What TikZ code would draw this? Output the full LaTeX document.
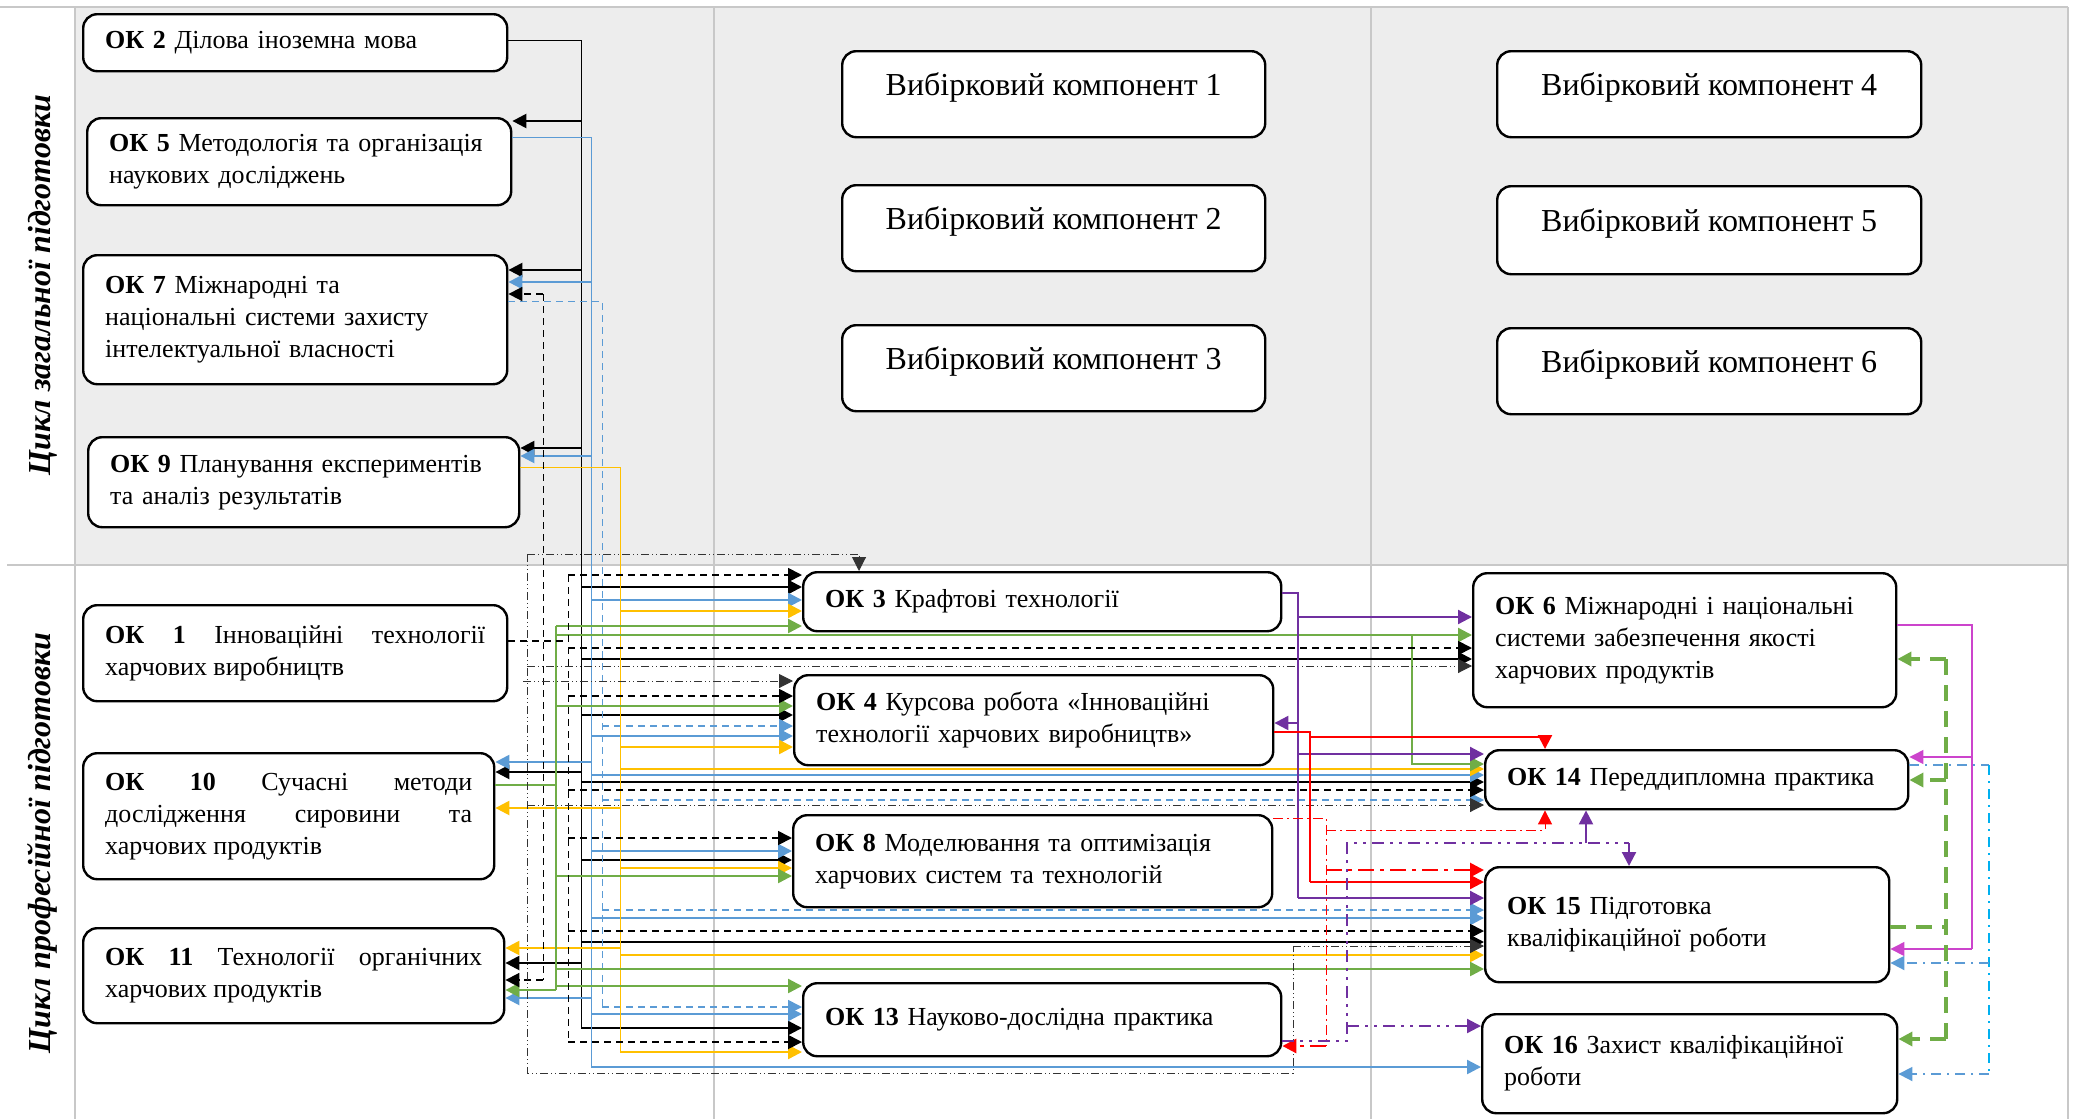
\documentclass[tikz,border=0pt]{standalone}
\usepackage{fontspec}
\setmainfont{Liberation Serif}
\usetikzlibrary{arrows.meta}

\definecolor{bgfill}{HTML}{EDEDED}
\definecolor{sepgray}{HTML}{C8C8C8}
\definecolor{lblue}{HTML}{5B9BD5}
\definecolor{lyellow}{HTML}{FFC000}
\definecolor{lgreen}{HTML}{70AD47}
\definecolor{lpurple}{HTML}{7030A0}
\definecolor{lred}{HTML}{FF0000}
\definecolor{lmagenta}{HTML}{CC44CC}
\definecolor{lcyan}{HTML}{00B0F0}

\begin{document}
\begin{tikzpicture}[
  x=0.5pt, y=-0.5pt,
  okbox/.style={draw, line width=1.2pt, rounded corners=7pt, fill=white, align=left,
    inner xsep=11pt, inner ysep=2pt, anchor=north west, font=\fontsize{13}{16}\selectfont},
  okjust/.style={okbox, align=justify},
  vkbox/.style={draw, line width=1.2pt, rounded corners=7pt, fill=white, align=center,
    anchor=north west, text depth=10pt, font=\fontsize{16}{19}\selectfont},
  cyclabel/.style={rotate=90, font=\fontsize{16}{19}\selectfont\bfseries\itshape},
  sepline/.style={sepgray, line width=1pt},
  arr/.style={-{Triangle[length=7pt,width=7pt]}},
  bus/.style={line width=0.5pt},
  blk/.style={black, line width=1.2pt},
  blu/.style={lblue, line width=1.2pt},
  yel/.style={lyellow, line width=1.2pt},
  grn/.style={lgreen, line width=1.2pt},
  kdash/.style={black, line width=0.9pt, dash pattern=on 3.5pt off 2.5pt},
  bdash/.style={lblue, line width=0.9pt, dash pattern=on 3.5pt off 2.5pt},
  kdd/.style={black!80, line width=0.5pt, dash pattern=on 4pt off 1.5pt on 0.5pt off 1.5pt on 0.5pt off 1.5pt},
  pur/.style={lpurple, line width=1.1pt},
  rline/.style={lred, line width=1.1pt},
  rdd/.style={lred, line width=0.5pt, dash pattern=on 5pt off 2pt on 1pt off 2pt},
  rddw/.style={lred, line width=1.4pt, dash pattern=on 8pt off 3pt on 2pt off 3pt},
  pdd/.style={lpurple, line width=1.1pt, dash pattern=on 6pt off 3pt on 1.5pt off 3pt on 1.5pt off 3pt},
  mag/.style={lmagenta, line width=0.6pt},
  gdash/.style={lgreen, line width=1.7pt, dash pattern=on 8pt off 5pt},
  cdd/.style={lcyan, line width=0.9pt, dash pattern=on 5pt off 3pt on 1pt off 3pt},
  cddb/.style={lblue, line width=0.9pt, dash pattern=on 5pt off 3pt on 1pt off 3pt}
]
\useasboundingbox (0,0) rectangle (2076,1119);

% table background
\fill[bgfill] (75,7) rectangle (2068,565);
\draw[sepline] (0,7) -- (2068,7);
\draw[sepline] (7,565) -- (2068,565);
\draw[sepline] (75,7) -- (75,1119);
\draw[sepline] (714,7) -- (714,1119);
\draw[sepline] (1371,7) -- (1371,1119);
\draw[sepline] (2068,7) -- (2068,1119);

\node[cyclabel] (gencycle) at (43,285) {Цикл загальної підготовки};
\node[cyclabel] (profcycle) at (42,843) {Цикл професійної підготовки};

% general cycle
\node[okbox, minimum width=212pt, minimum height=28.5pt, text width=190pt] (ok2) at (82,13) {\textbf{ОК 2} Ділова іноземна мова};
\node[okbox, minimum width=212pt, minimum height=43.5pt, text width=190pt] (ok5) at (86,117) {\textbf{ОК 5} Методологія та організація\\наукових досліджень};
\node[okbox, minimum width=212pt, minimum height=64.5pt, text width=190pt] (ok7) at (82,254) {\textbf{ОК 7} Міжнародні та\\національні системи захисту\\інтелектуальної власності};
\node[okbox, minimum width=215.5pt, minimum height=45pt, text width=193.5pt] (ok9) at (87,436) {\textbf{ОК 9} Планування експериментів\\та аналіз результатів};

\node[vkbox, minimum width=211.5pt, minimum height=43pt] (vk1) at (841,50) {Вибірковий компонент 1};
\node[vkbox, minimum width=211.5pt, minimum height=43pt] (vk2) at (841,184) {Вибірковий компонент 2};
\node[vkbox, minimum width=211.5pt, minimum height=43pt] (vk3) at (841,324) {Вибірковий компонент 3};
\node[vkbox, minimum width=212pt, minimum height=43pt] (vk4) at (1496,50) {Вибірковий компонент 4};
\node[vkbox, minimum width=212pt, minimum height=44pt] (vk5) at (1496,185) {Вибірковий компонент 5};
\node[vkbox, minimum width=212pt, minimum height=43pt] (vk6) at (1496,327) {Вибірковий компонент 6};

% professional cycle
\node[okjust, minimum width=212pt, minimum height=48pt, text width=190pt] (ok1) at (82,604) {\textbf{ОК 1} Інноваційні технології\linebreak харчових виробництв};
\node[okjust, minimum width=205.5pt, minimum height=63pt, text width=183.5pt] (ok10) at (82,752) {\textbf{ОК 10} Сучасні методи\linebreak дослідження сировини та\linebreak харчових продуктів};
\node[okjust, minimum width=210.5pt, minimum height=47.5pt, text width=188.5pt] (ok11) at (82,927) {\textbf{ОК 11} Технології органічних\linebreak харчових продуктів};
\node[okbox, minimum width=239pt, minimum height=29.5pt, text width=217pt] (ok3) at (802,571) {\textbf{ОК 3} Крафтові технології};
\node[okbox, minimum width=239.5pt, minimum height=45pt, text width=217.5pt] (ok4) at (793,674) {\textbf{ОК 4} Курсова робота «Інноваційні\\технології харчових виробництв»};
\node[okbox, minimum width=239.5pt, minimum height=46pt, text width=217.5pt] (ok8) at (792,814) {\textbf{ОК 8} Моделювання та оптимізація\\харчових систем та технологій};
\node[okbox, minimum width=239pt, minimum height=36.5pt, text width=217pt] (ok13) at (802,982) {\textbf{ОК 13} Науково-дослідна практика};
\node[okbox, minimum width=211.5pt, minimum height=67pt, text width=189.5pt] (ok6) at (1472,572) {\textbf{ОК 6} Міжнародні і національні\\системи забезпечення якості\\харчових продуктів};
\node[okbox, minimum width=211.5pt, minimum height=29.5pt, text width=189.5pt] (ok14) at (1484,749) {\textbf{ОК 14} Переддипломна практика};
\node[okbox, minimum width=202pt, minimum height=57.5pt, text width=180pt] (ok15) at (1484,866) {\textbf{ОК 15} Підготовка\\кваліфікаційної роботи};
\node[okbox, minimum width=207.5pt, minimum height=49.5pt, text width=185.5pt] (ok16) at (1481,1013) {\textbf{ОК 16} Захист кваліфікаційної\\роботи};

% bus lines
\coordinate (ddbus) at (527,0);
\coordinate (kdbusa) at (543,0);
\coordinate (gbus) at (556,0);
\coordinate (kdbus) at (568,0);
\coordinate (kbus) at (581,0);
\coordinate (bbus) at (591,0);
\coordinate (bdbus) at (602,0);
\coordinate (ybus) at (620,0);
\coordinate (pbus) at (1298,0);
\coordinate (rbus) at (1310,0);
\coordinate (rdbus) at (1326,0);
\coordinate (pdbus) at (1347,0);
\coordinate (gbranch) at (1412,0);
\coordinate (gdbus) at (1946,0);
\coordinate (mbus) at (1972,0);
\coordinate (cbus) at (1989,0);

% OK 2
\draw[blk, bus] (ok2.east |- 0,40) -- (kbus |- 0,40) -- (kbus |- 0,1028);
\draw[blk, arr] (kbus |- 0,121) -- (ok5.east |- 0,121);
\draw[blk, arr] (kbus |- 0,270) -- (ok7.east |- 0,270);
\draw[blk, arr] (kbus |- 0,448) -- (ok9.east |- 0,448);
\draw[blk, arr] (kbus |- 0,772) -- (ok10.east |- 0,772);
\draw[blk, arr] (kbus |- 0,963) -- (ok11.east |- 0,963);
\draw[blk, arr] (kbus |- 0,587) -- (ok3.west |- 0,587);
\draw[blk, arr] (kbus |- 0,659) -- (ok6.west |- 0,659);
\draw[blk, arr] (kbus |- 0,715) -- (ok4.west |- 0,715);
\draw[blk, arr] (kbus |- 0,782) -- (ok14.west |- 0,782);
\draw[blk, arr] (kbus |- 0,860) -- (ok8.west |- 0,860);
\draw[blk, arr] (kbus |- 0,942) -- (ok15.west |- 0,942);
\draw[blk, arr] (kbus |- 0,1028) -- (ok13.west |- 0,1028);

% OK 5
\draw[blu, bus] (ok5.east |- 0,137) -- (bbus |- 0,137) -- (bbus |- 0,1067);
\draw[blu, arr] (bbus |- 0,282) -- (ok7.east |- 0,282);
\draw[blu, arr] (bbus |- 0,456) -- (ok9.east |- 0,456);
\draw[blu, arr] (bbus |- 0,762) -- (ok10.east |- 0,762);
\draw[blu, arr] (bbus |- 0,998) -- (ok11.east |- 0,998);
\draw[blu, arr] (bbus |- 0,600) -- (ok3.west |- 0,600);
\draw[blu, arr] (bbus |- 0,736) -- (ok4.west |- 0,736);
\draw[blu, arr] (bbus |- 0,775) -- (ok14.west |- 0,775);
\draw[blu, arr] (bbus |- 0,851) -- (ok8.west |- 0,851);
\draw[blu, arr] (bbus |- 0,918) -- (ok15.west |- 0,918);
\draw[blu, arr] (bbus |- 0,1014) -- (ok13.west |- 0,1014);
\draw[blu, arr] (bbus |- 0,1067) -- (ok16.west |- 0,1067);

% OK 7
\draw[bdash, bus] (ok7.east |- 0,301) -- (bdbus |- 0,301) -- (bdbus |- 0,1007);
\draw[bdash, arr] (bdbus |- 0,726) -- (ok4.west |- 0,726);
\draw[bdash, arr] (bdbus |- 0,800) -- (ok14.west |- 0,800);
\draw[bdash, arr] (bdbus |- 0,910) -- (ok15.west |- 0,910);
\draw[bdash, arr] (bdbus |- 0,1007) -- (ok13.west |- 0,1007);

% OK 9
\draw[yel, bus] (ok9.east |- 0,467) -- (ybus |- 0,467) -- (ybus |- 0,1052);
\draw[yel, arr] (ybus |- 0,808) -- (ok10.east |- 0,808);
\draw[yel, arr] (ybus |- 0,948) -- (ok11.east |- 0,948);
\draw[yel, arr] (ybus |- 0,611) -- (ok3.west |- 0,611);
\draw[yel, arr] (ybus |- 0,747) -- (ok4.west |- 0,747);
\draw[yel, arr] (ybus |- 0,769) -- (ok14.west |- 0,769);
\draw[yel, arr] (ybus |- 0,868) -- (ok8.west |- 0,868);
\draw[yel, arr] (ybus |- 0,955) -- (ok15.west |- 0,955);
\draw[yel, arr] (ybus |- 0,1052) -- (ok13.west |- 0,1052);

% OK 10
\draw[grn] (ok10.east |- 0,785) -- (gbus |- 0,785);
\draw[grn] (gbus |- 0,626) -- (gbus |- 0,990);
\draw[grn, arr] (gbus |- 0,990) -- (ok11.east |- 0,990);
\draw[grn, arr] (gbus |- 0,626) -- (ok3.west |- 0,626);
\draw[grn, arr] (gbus |- 0,635) -- (ok6.west |- 0,635);
\draw[grn, arr] (gbranch |- 0,635) -- (gbranch |- 0,764) -- (ok14.west |- 0,764);
\draw[grn, arr] (gbus |- 0,706) -- (ok4.west |- 0,706);
\draw[grn, arr] (gbus |- 0,876) -- (ok8.west |- 0,876);
\draw[grn, arr] (gbus |- 0,969) -- (ok15.west |- 0,969);
\draw[grn, arr] (gbus |- 0,986) -- (ok13.west |- 0,986);

% OK 1
\draw[kdash] (ok1.east |- 0,641) -- (kdbus |- 0,641);
\draw[kdash, bus] (kdbus |- 0,575) -- (kdbus |- 0,1042);
\draw[kdash, bus] (kdbusa |- 0,294) -- (kdbusa |- 0,980);
\draw[kdash, arr] (kdbusa |- 0,294) -- (ok7.east |- 0,294);
\draw[kdash, arr] (kdbusa |- 0,980) -- (ok11.east |- 0,980);
\draw[kdash, arr] (kdbus |- 0,575) -- (ok3.west |- 0,575);
\draw[kdash, arr] (kdbus |- 0,648) -- (ok6.west |- 0,648);
\draw[kdash, arr] (kdbus |- 0,696) -- (ok4.west |- 0,696);
\draw[kdash, arr] (kdbus |- 0,790) -- (ok14.west |- 0,790);
\draw[kdash, arr] (kdbus |- 0,838) -- (ok8.west |- 0,838);
\draw[kdash, arr] (kdbus |- 0,931) -- (ok15.west |- 0,931);
\draw[kdash, arr] (kdbus |- 0,1042) -- (ok13.west |- 0,1042);

% dash-dot loop
\draw[kdd] (ddbus |- 0,554) -- (ddbus |- 0,1073) -- (1293,1073) -- (1293,946);
\draw[kdd, arr] (ddbus |- 0,554) -- (859,554) -- (ok3.north -| 859,0);
\draw[kdd, arr] (ddbus |- 0,666) -- (ok6.west |- 0,666);
\draw[kdd, arr] (523,681) -- (ok4.west |- 0,681);
\draw[kdd, arr] (ddbus |- 0,805) -- (ok14.west |- 0,805);
\draw[kdd, arr] (1293,946) -- (ok15.west |- 0,946);

% OK 3
\draw[pur] (ok3.east |- 0,593) -- (pbus |- 0,593) -- (pbus |- 0,898);
\draw[pur, arr] (pbus |- 0,617) -- (ok6.west |- 0,617);
\draw[pur, arr] (pbus |- 0,723) -- (ok4.east |- 0,723);
\draw[pur, arr] (pbus |- 0,754) -- (ok14.west |- 0,754);
\draw[pur, arr] (pbus |- 0,898) -- (ok15.west |- 0,898);

% OK 4
\draw[rline] (ok4.east |- 0,732) -- (rbus |- 0,732) -- (rbus |- 0,882);
\draw[rline, arr] (rbus |- 0,882) -- (ok15.west |- 0,882);
\draw[rline, arr] (rbus |- 0,737) -- (1545,737) -- (ok14.north -| 1545,0);

% OK 8
\draw[rdd] (ok8.east |- 0,818) -- (rdbus |- 0,818) -- (rdbus |- 0,1046);
\draw[rdd, arr] (rdbus |- 0,830) -- (1545,830) -- (ok14.south -| 1545,0);
\draw[rddw, arr] (rdbus |- 0,870) -- (ok15.west |- 0,870);
\draw[rddw, arr] (rdbus |- 0,1046) -- (ok13.east |- 0,1046);

% OK 13
\draw[pdd] (ok13.east |- 0,1041) -- (pdbus |- 0,1041) -- (pdbus |- 0,843) -- (1629,843);
\draw[pdd, arr] (1629,843) -- (ok15.north -| 1629,0);
\draw[pdd, arr] (pdbus |- 0,1026) -- (ok16.west |- 0,1026);
\draw[pur, arr] (1586,843) -- (ok14.south -| 1586,0);

% OK 6
\draw[mag] (ok6.east |- 0,625) -- (mbus |- 0,625) -- (mbus |- 0,949);
\draw[mag, arr] (mbus |- 0,757) -- (ok14.east |- 0,757);
\draw[mag, arr] (mbus |- 0,949) -- (ok15.east |- 0,949);

% OK 15
\draw[gdash] (ok15.east |- 0,927) -- (gdbus |- 0,927);
\draw[gdash] (gdbus |- 0,659) -- (gdbus |- 0,1039);
\draw[gdash, arr] (gdbus |- 0,659) -- (ok6.east |- 0,659);
\draw[gdash, arr] (gdbus |- 0,780) -- (ok14.east |- 0,780);
\draw[gdash, arr] (gdbus |- 0,1039) -- (ok16.east |- 0,1039);

% OK 14
\draw[cddb] (ok14.east |- 0,765) -- (cbus |- 0,765);
\draw[cdd] (cbus |- 0,765) -- (cbus |- 0,1074);
\draw[cddb, arr] (cbus |- 0,963) -- (ok15.east |- 0,963);
\draw[cddb, arr] (cbus |- 0,1074) -- (ok16.east |- 0,1074);
\end{tikzpicture}
\end{document}
